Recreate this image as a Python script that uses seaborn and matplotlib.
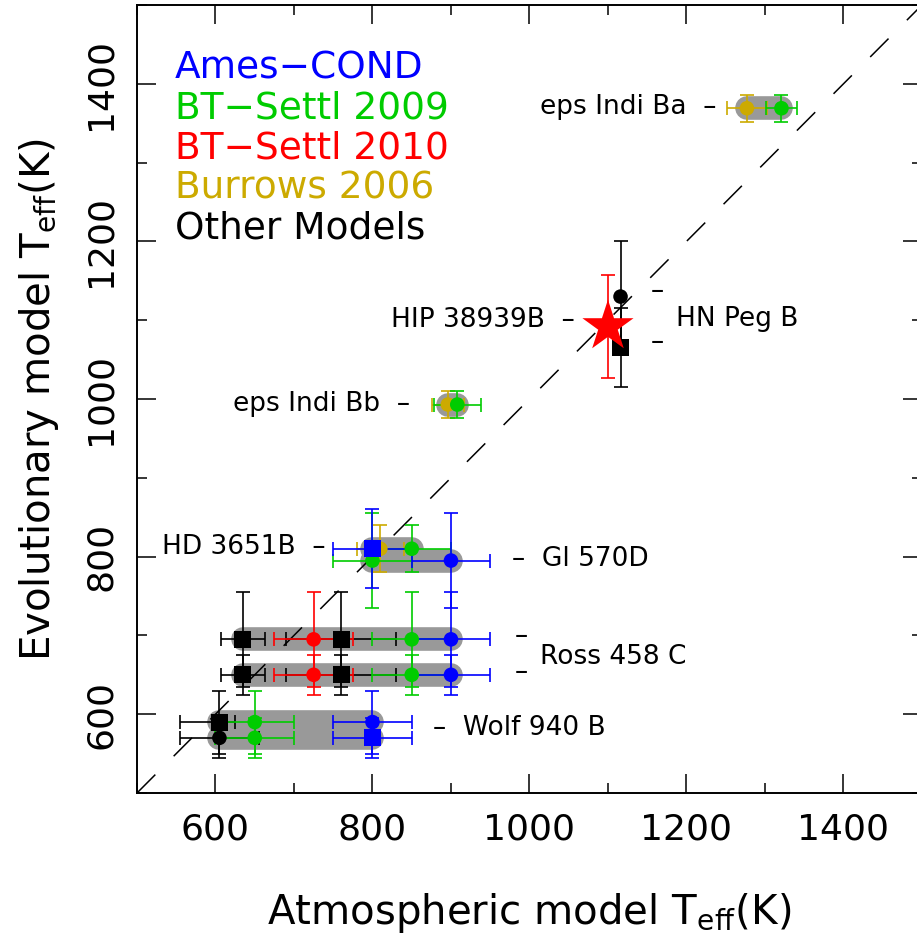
import matplotlib
matplotlib.use("Agg")
import matplotlib.pyplot as plt
from matplotlib.ticker import MultipleLocator
import seaborn as sns
import pandas as pd

# one entry per plotted point
pt_model = ["Other", "Other", "BT09", "BT09", "COND", "COND",
            "Other", "Other", "Other", "Other", "BT10", "BT10", "BT09", "BT09", "COND", "COND",
            "COND", "Burrows", "BT09", "BT09", "COND",
            "Burrows", "BT09",
            "Burrows", "BT09",
            "Other", "Other", "BT10"]
pt_marker = ["s", "o", "o", "o", "o", "s",
             "s", "s", "s", "s", "o", "o", "o", "o", "o", "o",
             "s", "o", "o", "o", "o",
             "o", "o",
             "o", "o",
             "o", "s", "*"]
pt_x = [605, 605, 650, 650, 800, 800,
        635, 635, 760, 760, 725, 725, 850, 850, 900, 900,
        800, 810, 850, 800, 900,
        896, 908,
        1277, 1321,
        1116, 1116, 1100]
pt_y = [590, 570, 590, 570, 590, 570,
        695, 650, 695, 650, 695, 650, 695, 650, 695, 650,
        810, 810, 810, 795, 795,
        993, 993,
        1369, 1369,
        1130, 1065, 1092]
pt_xlo = [50, 50, 50, 50, 50, 50,
          28, 28, 70, 70, 50, 50, 50, 50, 50, 50,
          50, 30, 50, 50, 50,
          20, 30,
          25, 20,
          0, 0, 0]
pt_xhi = [20, 50, 50, 50, 50, 50,
          28, 28, 70, 70, 50, 50, 50, 50, 50, 50,
          50, 30, 50, 50, 50,
          20, 30,
          25, 20,
          0, 0, 0]
pt_yerr = [40, 25, 40, 25, 40, 25,
           60, 25, 60, 25, 60, 25, 60, 25, 60, 25,
           50, 30, 30, 60, 60,
           17, 17,
           17, 17,
           70, 50, 65]

# grey bands joining estimates for the same object
band_y = [590, 570, 695, 650, 810, 795, 993, 1369]
band_x0 = [605, 605, 635, 635, 800, 800, 896, 1277]
band_x1 = [800, 800, 900, 900, 850, 900, 908, 1321]

model_names = ["Ames\u2212COND", "BT\u2212Settl 2009", "BT\u2212Settl 2010", "Burrows 2006", "Other Models"]
model_keys = ["COND", "BT09", "BT10", "Burrows", "Other"]
model_colors = ["#0000ff", "#00cc00", "#ff0000", "#ccaa00", "#000000"]
palette = dict(zip(model_keys, model_colors))

sns.set_style("ticks")
plt.rcParams["font.family"] = ["DejaVu Sans"]
plt.rcParams["mathtext.fontset"] = "dejavusans"

fig = plt.figure(figsize=(9.17, 9.48), dpi=100)
ax = fig.add_axes([0.1494, 0.1635, 0.856, 0.8312])

for y, x0, x1 in zip(band_y, band_x0, band_x1):
    ax.plot([x0, x1], [y, y], color="#999999", lw=17, solid_capstyle="round", zorder=1)

ax.plot([500, 1500], [500, 1500], color="k", lw=1.1, dashes=(17, 17), zorder=2)

df = pd.DataFrame({"model": pt_model, "marker": pt_marker, "x": pt_x, "y": pt_y,
                   "xlo": pt_xlo, "xhi": pt_xhi, "yerr": pt_yerr})

# draw error bars grouped by model, in the stacking order of the original
for key in ["Other", "Burrows", "BT10", "BT09", "COND"]:
    sub = df[df.model == key]
    for _, r in sub.iterrows():
        xerr = None if (r.xlo == 0 and r.xhi == 0) else [[r.xlo], [r.xhi]]
        ax.errorbar([r.x], [r.y], xerr=xerr, yerr=[[r.yerr], [r.yerr]], fmt="none",
                    ecolor=palette[key], elinewidth=1.2, capsize=5, capthick=1.2, zorder=3)

order = {"Other": 0, "Burrows": 1, "BT10": 2, "BT09": 3, "COND": 4}
df["ord"] = df.model.map(order)
df = df.sort_values("ord", kind="stable")
sns.scatterplot(data=df, x="x", y="y", hue="model", style="marker", size="marker",
                palette=palette, markers={"o": "o", "s": "s", "*": "*"},
                sizes={"o": 110, "s": 150, "*": 1500}, linewidth=0, legend=False,
                zorder=5, ax=ax)

ax.set_xlim(500, 1500)
ax.set_ylim(500, 1500)
ax.xaxis.set_minor_locator(MultipleLocator(100))
ax.yaxis.set_minor_locator(MultipleLocator(100))
ax.set_xticks([600, 800, 1000, 1200, 1400])
ax.set_yticks([600, 800, 1000, 1200, 1400])
ax.tick_params(which="both", direction="in", top=True, right=True, width=1.1, colors="k")
ax.tick_params(which="major", length=14, labelsize=26, pad=14)
ax.tick_params(which="minor", length=7)
plt.setp(ax.get_yticklabels(), rotation=90, va="center")
for s in ax.spines.values():
    s.set_linewidth(1.4)
    s.set_color("k")

ax.set_xlabel(r"Atmospheric model T$_{\rm eff}$(K)", fontsize=29, labelpad=32, color="k")
ax.set_ylabel(r"Evolutionary model T$_{\rm eff}$(K)", fontsize=29, labelpad=16, color="k")

# colour key written as text
for i, (name, col) in enumerate(zip(model_names, model_colors)):
    ax.text(548, 1420 - 51 * i, name, color=col, fontsize=27, ha="left", va="center")

# object labels
lab = dict(fontsize=19, color="k", va="center")
ax.text(1238, 1370, "eps Indi Ba  \u2013", ha="right", **lab)
ax.text(848, 994, "eps Indi Bb  \u2013", ha="right", **lab)
ax.text(740, 812, "HD 3651B  \u2013", ha="right", **lab)
ax.text(978, 797, "\u2013  Gl 570D", ha="left", **lab)
ax.text(1058, 1100, "HIP 38939B  \u2013", ha="right", **lab)
ax.text(1163, 1137, "\u2013", ha="center", **lab)
ax.text(1163, 1072, "\u2013", ha="center", **lab)
ax.text(1187, 1102, "HN Peg B", ha="left", **lab)
ax.text(989, 699, "\u2013", ha="center", **lab)
ax.text(989, 653, "\u2013", ha="center", **lab)
ax.text(1013, 673, "Ross 458 C", ha="left", **lab)
ax.text(877, 583, "\u2013  Wolf 940 B", ha="left", **lab)

fig.savefig("out.png", dpi=100)
